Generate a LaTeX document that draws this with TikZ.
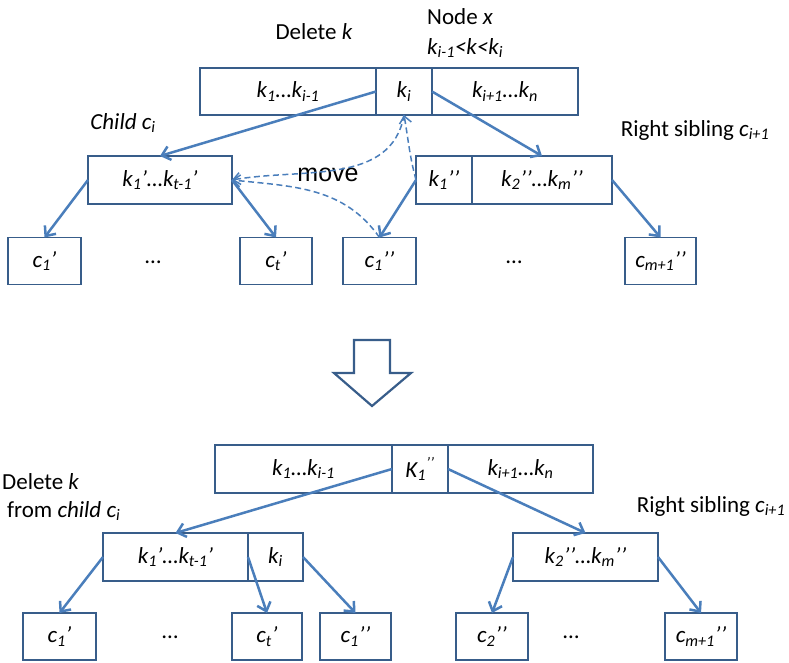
\documentclass[tikz,border=0pt]{standalone}
\usepackage{fontspec}
\setmainfont{Carlito}
\newfontfamily\movefont{Liberation Sans}
\usetikzlibrary{positioning,arrows.meta}
\definecolor{btLine}{RGB}{74,126,187}
\definecolor{btEdge}{RGB}{56,93,138}

\tikzset{
  cell/.style={draw=btEdge, line width=1.8pt, fill=white, minimum height=47pt, inner sep=1pt, outer sep=0pt, font=\fontsize{23}{26}\selectfont\itshape},
  leaf/.style={cell, minimum width=72pt},
  link/.style={btLine, line width=2.5pt, -{Straight Barb[length=8pt,width=14pt]}},
  movelink/.style={btLine, line width=1.5pt, dash pattern=on 6pt off 3.5pt, -{Straight Barb[length=7pt,width=12pt]}},
  tag/.style={font=\fontsize{23}{26}\selectfont, inner sep=0pt},
}

\begin{document}
\begin{tikzpicture}[x=1pt,y=1pt]
  \useasboundingbox (0,0) rectangle (789,662);

  % Before: node x with child c_i and right sibling
  \node[cell, minimum width=176pt] (xL) at (288,570.5) {k\textsubscript{1}…k\textsubscript{i-1}};
  \node[cell, minimum width=56pt, right=0pt of xL] (xM) {k\textsubscript{i}};
  \node[cell, minimum width=146pt, right=0pt of xM] (xR) {k\textsubscript{i+1}…k\textsubscript{n}};
  \node[tag] (delTop) at (314,630) {Delete \textit{k}};
  \node[tag, anchor=west] (nodeX) at (427,645) {Node \textit{x}};
  \node[tag, anchor=west] (range) at (427,614) {\textit{k\textsubscript{i-1}<k<k\textsubscript{i}}};

  \node[cell, minimum width=144pt, minimum height=48pt] (ci) at (160,482) {k\textsubscript{1}’…k\textsubscript{t-1}’};
  \node[tag] (ciTag) at (123,539) {\textit{Child c\textsubscript{i}}};
  \node[cell, minimum width=56pt, minimum height=48pt] (sA) at (444,482) {k\textsubscript{1}’’};
  \node[cell, minimum width=140pt, minimum height=48pt, right=0pt of sA] (sB) {k\textsubscript{2}’’…k\textsubscript{m}’’};
  \node[tag] (sTag) at (695,532) {Right sibling \textit{c\textsubscript{i+1}}};
  \node[font=\movefont\fontsize{25}{28}\selectfont, inner sep=0pt] (move) at (328,487) {move};

  \node[leaf, minimum width=73pt] (a1) at (44.5,401) {c\textsubscript{1}’};
  \node[tag] (aDots) at (153,400) {…};
  \node[leaf] (at) at (276,401) {c\textsubscript{t}’};
  \node[leaf, minimum width=73pt] (b1) at (379.5,401) {c\textsubscript{1}’’};
  \node[tag] (bDots) at (514,400) {…};
  \node[leaf, minimum width=71pt] (bm) at (660.5,401) {c\textsubscript{m+1}’’};

  \draw[link] (xM.west) -- (ci.north);
  \draw[link] (xM.east) -- (sB.north);
  \draw[link] (ci.west) -- (a1.north);
  \draw[link] (ci.east) -- (at.north);
  \draw[link] (sA.west) -- (b1.north);
  \draw[link] (sB.east) -- (bm.north);

  \draw[movelink] (sA.west) to[out=105,in=-80] (xM.south);
  \draw[movelink] (xM.south) to[out=-100,in=10] (ci.east);
  \draw[movelink] (b1.north) to[out=125,in=-6] (ci.east);

  % Block arrow
  \draw[btEdge, line width=2.2pt, fill=white, line join=miter] (354,322) -- (390,322) -- (390,289) -- (411,289) -- (372,256) -- (334,289) -- (354,289) -- cycle;

  % After: K_1'' moved up, k_i moved down
  \node[cell, minimum width=177pt, minimum height=48pt] (yL) at (303.5,193) {k\textsubscript{1}…k\textsubscript{i-1}};
  \node[cell, minimum width=56pt, minimum height=48pt, right=0pt of yL] (yM) {K\textsubscript{1}\textsuperscript{’’}};
  \node[cell, minimum width=145pt, minimum height=48pt, right=0pt of yM] (yR) {k\textsubscript{i+1}…k\textsubscript{n}};
  \node[tag, anchor=west] (delBot) at (2,180) {Delete \textit{k}};
  \node[tag, anchor=west] (fromBot) at (7,151) {from \textit{child c\textsubscript{i}}};

  \node[cell, minimum width=145pt, minimum height=48pt] (cA) at (175.5,105) {k\textsubscript{1}’…k\textsubscript{t-1}’};
  \node[cell, minimum width=55pt, minimum height=48pt, right=0pt of cA] (cB) {k\textsubscript{i}};
  \node[cell, minimum width=145pt, minimum height=48pt] (rs) at (585.5,105) {k\textsubscript{2}’’…k\textsubscript{m}’’};
  \node[tag] (rsTag) at (711,156) {Right sibling \textit{c\textsubscript{i+1}}};

  \node[leaf, minimum width=73pt] (p1) at (59.5,25.5) {c\textsubscript{1}’};
  \node[tag] (pDots) at (170,24.5) {…};
  \node[leaf, minimum width=70pt] (pt) at (267,25.5) {c\textsubscript{t}’};
  \node[leaf, minimum width=71pt] (q1) at (355.5,25.5) {c\textsubscript{1}’’};
  \node[leaf] (q2) at (492,25.5) {c\textsubscript{2}’’};
  \node[tag] (qDots) at (571,24.5) {…};
  \node[leaf] (qm) at (701,25.5) {c\textsubscript{m+1}’’};

  \draw[link] (yM.west) -- (cA.north);
  \draw[link] (yM.east) -- (rs.north);
  \draw[link] (cA.west) -- (p1.north);
  \draw[link] (cA.east) -- (pt.north);
  \draw[link] (cB.east) -- (q1.north);
  \draw[link] (rs.west) -- (q2.north);
  \draw[link] (rs.east) -- (qm.north);
\end{tikzpicture}
\end{document}
